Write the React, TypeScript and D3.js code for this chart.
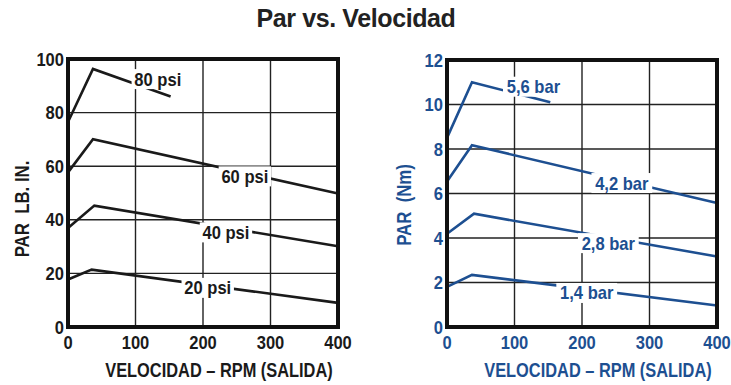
import React from 'react';
import * as d3 from 'd3';

const xTicks = [0, 100, 200, 300, 400];

// Left chart: PAR LB. IN. per pressure (psi)
const psiSeries = [
  { name: '80 psi', x: [0, 37, 152], y: [76.5, 96.3, 86], lx: 133, ly: 92.5 },
  { name: '60 psi', x: [0, 37, 400], y: [57.7, 70.1, 49.8], lx: 262, ly: 56.2 },
  { name: '40 psi', x: [0, 39, 400], y: [36.9, 45.3, 30.1], lx: 234, ly: 35.3 },
  { name: '20 psi', x: [0, 35, 400], y: [17.7, 21.4, 9], lx: 207, ly: 14.6 },
];
const psiTicks = [0, 20, 40, 60, 80, 100];

// Right chart: PAR (Nm) per pressure (bar)
const barSeries = [
  { name: '5,6 bar', x: [0, 37, 153], y: [8.5, 11.0, 10.1], lx: 128, ly: 10.8 },
  { name: '4,2 bar', x: [0, 37, 400], y: [6.54, 8.17, 5.57], lx: 259, ly: 6.47 },
  { name: '2,8 bar', x: [0, 40, 400], y: [4.19, 5.09, 3.17], lx: 239, ly: 3.77 },
  { name: '1,4 bar', x: [0, 37, 400], y: [1.8, 2.34, 0.97], lx: 207, ly: 1.53 },
];
const nmTicks = [0, 2, 4, 6, 8, 10, 12];

const font = 'Liberation Sans, Arial, Helvetica, sans-serif';

type Series = { name: string; x: number[]; y: number[]; lx: number; ly: number };

// condensed text: horizontal squeeze around the anchor point
function T(props: { x: number; y: number; sx: number; size: number; anchor: string; fill: string; rot?: number; children: React.ReactNode }) {
  const { x, y, sx, size, anchor, fill, rot, children } = props;
  const tr = rot ? `translate(${x},${y}) rotate(${rot}) scale(${sx},1)` : `translate(${x},${y}) scale(${sx},1)`;
  return <text transform={tr} textAnchor={anchor} fontSize={size} fill={fill} style={{ whiteSpace: 'pre' }}>{children}</text>;
}

function Chart(props: {
  left: number; right: number; top: number; bottom: number;
  yMax: number; yTicks: number[]; series: Series[]; color: string;
  yTitle: string; yTitleX: number; yTitleY: number;
}) {
  const { left, right, top, bottom, yMax, yTicks, series, color, yTitle, yTitleX, yTitleY } = props;
  const x = d3.scaleLinear().domain([0, 400]).range([left, right]);
  const y = d3.scaleLinear().domain([0, yMax]).range([bottom, top]);
  const line = d3.line<[number, number]>().x(d => x(d[0])).y(d => y(d[1]));
  return (
    <g fontFamily={font} fontWeight="bold">
      {xTicks.slice(1, -1).map(t => (
        <line key={'gx' + t} x1={x(t)} x2={x(t)} y1={top} y2={bottom} stroke="#222" strokeWidth={1.4} />
      ))}
      {yTicks.slice(1, -1).map(t => (
        <line key={'gy' + t} x1={left} x2={right} y1={y(t)} y2={y(t)} stroke="#222" strokeWidth={1.4} />
      ))}
      {series.map(s => (
        <path key={s.name} d={line(s.x.map((v, i) => [v, s.y[i]]) as [number, number][]) || ''}
          fill="none" stroke={color} strokeWidth={2.6} strokeLinejoin="miter" />
      ))}
      {series.map(s => {
        const w = s.name.length * 8.4;
        return (
          <g key={'l' + s.name}>
            <rect x={x(s.lx) - w / 2 - 1} y={y(s.ly) - 10} width={w + 2} height={20} fill="#fff" />
            <T x={x(s.lx)} y={y(s.ly) + 6.5} sx={0.92} size={18} anchor="middle" fill={color}>{s.name}</T>
          </g>
        );
      })}
      <rect x={left} y={top} width={right - left} height={bottom - top} fill="none" stroke="#111" strokeWidth={4} />
      {yTicks.map(t => (
        <T key={'ty' + t} x={left - 4} y={y(t) + 6.5} sx={0.92} size={18} anchor="end" fill={color}>{t}</T>
      ))}
      {xTicks.map(t => (
        <T key={'tx' + t} x={x(t)} y={bottom + 22} sx={0.92} size={18} anchor="middle" fill={color}>{t}</T>
      ))}
      <T x={(left + right) / 2 + 16} y={bottom + 50} sx={0.78} size={21} anchor="middle" fill={color}>
        {'VELOCIDAD – RPM (SALIDA)'}
      </T>
      <T x={yTitleX} y={yTitleY} sx={0.8} size={21} anchor="middle" fill={color} rot={-90}>{yTitle}</T>
    </g>
  );
}

export default function App() {
  return (
    <svg width={731} height={385} style={{ position: 'absolute', left: 0, top: 0, background: '#fff' }}>
      <text x={356} y={27} textAnchor="middle" fontFamily={font} fontWeight="bold" fontSize={25}
        letterSpacing={-0.4} fill="#222">Par vs. Velocidad</text>
      <Chart left={68} right={338} top={59} bottom={327} yMax={100} yTicks={psiTicks}
        series={psiSeries} color="#1a1a1a" yTitle="PAR  LB. IN." yTitleX={29} yTitleY={209} />
      <Chart left={447} right={717} top={60} bottom={327} yMax={12} yTicks={nmTicks}
        series={barSeries} color="#1d4f91" yTitle="PAR  (Nm)" yTitleX={411} yTitleY={205} />
    </svg>
  );
}
